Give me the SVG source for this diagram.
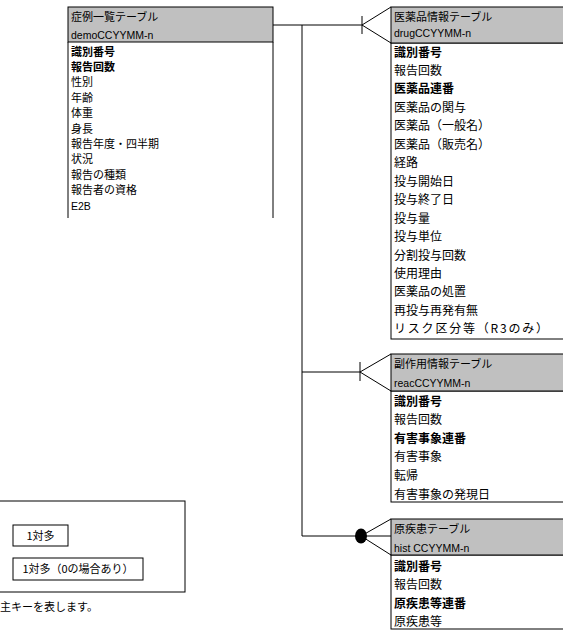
<svg xmlns="http://www.w3.org/2000/svg" width="563" height="636" viewBox="0 0 563 636">
<style>
  text { font-family: "Noto Sans CJK JP", "Liberation Sans", sans-serif; font-size: 11px; fill: #000; }
  .r { font-size: 12px; }
  .b { font-weight: bold; }
  .lat { font-family: "Liberation Sans", sans-serif; font-size: 10.5px; }
  .hdr { fill: #c0c0c0; stroke: #000; stroke-width: 1; }
  .ln { stroke: #000; stroke-width: 1; fill: none; }
  .body { fill: #fff; stroke: #000; stroke-width: 1; }
</style>
<rect x="0" y="0" width="563" height="636" fill="#fff"/>

<g id="connectors">
  <line class="ln" x1="273" y1="25" x2="362" y2="25"/>
  <line class="ln" x1="302" y1="25" x2="302" y2="536"/>
  <line class="ln" x1="362" y1="16" x2="362" y2="34" stroke-width="2"/>
  <line class="ln" x1="362" y1="25" x2="391" y2="7"/>
  <line class="ln" x1="362" y1="25" x2="391" y2="43"/>

  <line class="ln" x1="302" y1="372" x2="360" y2="372"/>
  <line class="ln" x1="360" y1="362" x2="360" y2="381" stroke-width="2.5"/>
  <line class="ln" x1="360" y1="372" x2="391" y2="354"/>
  <line class="ln" x1="360" y1="372" x2="391" y2="391"/>

  <line class="ln" x1="302" y1="536" x2="356" y2="536" stroke-width="1.5"/>
  <ellipse cx="361" cy="536" rx="6" ry="7.5" fill="#000"/>
  <line class="ln" x1="361" y1="536" x2="391" y2="519" stroke-width="1.5"/>
  <line class="ln" x1="361" y1="536" x2="391" y2="536" stroke-width="1.5"/>
  <line class="ln" x1="361" y1="536" x2="391" y2="555" stroke-width="1.5"/>
</g>

<g id="demo">
  <rect class="hdr" x="68" y="7" width="205" height="35"/>
  <line class="ln" x1="68" y1="42" x2="68" y2="218"/>
  <line class="ln" x1="273" y1="42" x2="273" y2="218"/>
  <text x="71" y="21">症例一覧テーブル</text>
  <text class="lat" x="71" y="39">demoCCYYMM-n</text>
  <text class="b" x="71" y="55.5">識別番号</text>
  <text class="b" x="71" y="70.9">報告回数</text>
  <text x="71" y="86.3">性別</text>
  <text x="71" y="101.7">年齢</text>
  <text x="71" y="117.1">体重</text>
  <text x="71" y="132.5">身長</text>
  <text x="71" y="147.9">報告年度・四半期</text>
  <text x="71" y="163.3">状況</text>
  <text x="71" y="178.7">報告の種類</text>
  <text x="71" y="194.1">報告者の資格</text>
  <text class="lat" x="71" y="209.5">E2B</text>
</g>

<g id="drug">
  <rect class="body" x="391" y="43" width="180" height="296"/>
  <rect class="hdr" x="391" y="7" width="180" height="36"/>
  <text x="394" y="21">医薬品情報テーブル</text>
  <text class="lat" x="394" y="37">drugCCYYMM-n</text>
  <text class="r b" x="394" y="56.5">識別番号</text>
  <text class="r" x="394" y="75">報告回数</text>
  <text class="r b" x="394" y="93.4">医薬品連番</text>
  <text class="r" x="394" y="111.9">医薬品の関与</text>
  <text class="r" x="394" y="130.3">医薬品（一般名）</text>
  <text class="r" x="394" y="148.8">医薬品（販売名）</text>
  <text class="r" x="394" y="167.2">経路</text>
  <text class="r" x="394" y="185.7">投与開始日</text>
  <text class="r" x="394" y="204.1">投与終了日</text>
  <text class="r" x="394" y="222.6">投与量</text>
  <text class="r" x="394" y="241">投与単位</text>
  <text class="r" x="394" y="259.5">分割投与回数</text>
  <text class="r" x="394" y="277.9">使用理由</text>
  <text class="r" x="394" y="296.4">医薬品の処置</text>
  <text class="r" x="394" y="314.8">再投与再発有無</text>
  <text class="r" x="394" y="333.3" textLength="154" lengthAdjust="spacing">リスク区分等（R3のみ）</text>
</g>

<g id="reac">
  <rect class="body" x="391" y="391" width="180" height="111"/>
  <rect class="hdr" x="391" y="354" width="180" height="37"/>
  <text x="394" y="367.5">副作用情報テーブル</text>
  <text class="lat" x="394" y="387">reacCCYYMM-n</text>
  <text class="r b" x="394" y="405.5">識別番号</text>
  <text class="r" x="394" y="424.1">報告回数</text>
  <text class="r b" x="394" y="442.7">有害事象連番</text>
  <text class="r" x="394" y="461.3">有害事象</text>
  <text class="r" x="394" y="479.9">転帰</text>
  <text class="r" x="394" y="498.5">有害事象の発現日</text>
</g>

<g id="hist">
  <rect class="body" x="391" y="555" width="180" height="74"/>
  <rect class="hdr" x="391" y="519" width="180" height="36"/>
  <text x="394" y="532.5">原疾患テーブル</text>
  <text class="lat" x="394" y="552">hist CCYYMM-n</text>
  <text class="r b" x="394" y="570.5">識別番号</text>
  <text class="r" x="394" y="589.1">報告回数</text>
  <text class="r b" x="394" y="607.7">原疾患等連番</text>
  <text class="r" x="394" y="626.3">原疾患等</text>
</g>

<g id="legend">
  <rect class="body" x="-10" y="501" width="195" height="91"/>
  <rect class="body" x="13" y="525" width="55" height="21"/>
  <text x="40.5" y="539.5" text-anchor="middle" font-size="10.5">1対多</text>
  <rect class="body" x="13" y="558" width="130" height="22"/>
  <text x="78" y="572.5" text-anchor="middle" font-size="10.5">1対多（0の場合あり）</text>
  <text x="0" y="611">主キーを表します。</text>
</g>
</svg>
